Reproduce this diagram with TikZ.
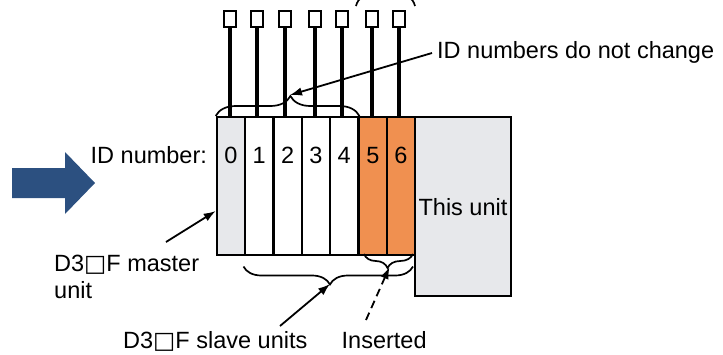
\documentclass[tikz,border=0pt]{standalone}
\usepackage{fontspec}
\setmainfont{Liberation Sans}
\newfontfamily\symf{DejaVu Sans}
\usetikzlibrary{arrows.meta,decorations.pathreplacing}
\definecolor{unitgray}{RGB}{231,232,235}
\definecolor{unitorange}{RGB}{240,144,80}
\definecolor{arrowblue}{RGB}{44,80,128}
\newcommand{\sq}{{\symf\char"25A1}}
\tikzset{
  unitbox/.style={draw=black, line width=2.2pt, minimum width=28.3pt, minimum height=138pt, inner sep=0pt, anchor=north west},
  idsq/.style={draw=black, line width=2.2pt, fill=white, minimum width=12.5pt, minimum height=16.5pt, inner sep=0pt},
  txt/.style={inner sep=0pt, font=\fontsize{23.5}{28}\selectfont},
  stem/.style={line width=3.4pt},
  bracestyle/.style={line width=1.7pt, decorate},
  callout/.style={line width=1.8pt, -{Latex[length=12pt,width=8.5pt]}},
}
\begin{document}
\begin{tikzpicture}[x=1pt,y=-1pt]
\useasboundingbox (0,0) rectangle (723,354);
\clip (0,0) rectangle (723,354);
% blue arrow
\fill[arrowblue] (12,168) -- (65,168) -- (65,152) -- (95,183) -- (65,214) -- (65,198) -- (12,198) -- cycle;
% units
\node[unitbox, fill=unitgray] (u0) at (215.7,116) {};
\node[unitbox, fill=white] (u1) at (244,116) {};
\node[unitbox, fill=white] (u2) at (272.3,116) {};
\node[unitbox, fill=white] (u3) at (300.6,116) {};
\node[unitbox, fill=white] (u4) at (328.9,116) {};
\node[unitbox, fill=unitorange, minimum width=28pt] (u5) at (357.9,116) {};
\node[unitbox, fill=unitorange, minimum width=28pt] (u6) at (385.9,116) {};
\node[draw=black, line width=2.2pt, fill=unitgray, minimum width=96pt, minimum height=179pt, anchor=north west, inner sep=0pt, font=\fontsize{23.5}{28}\selectfont] (this) at (413.9,116) {This unit};
% numbers
\foreach \i in {0,...,6}{
  \node[txt, anchor=base] (n\i) at (u\i.center |- 0,163) {\i};
}
% squares and stems
\foreach \i/\x in {0/230,1/257,2/285,3/315,4/342,5/372,6/399}{
  \node[idsq] (s\i) at (\x,19) {};
  \draw[stem] (s\i.south) -- (s\i.south |- u\i.north);
}
% top partial brace (cut off)
\draw[line width=1.7pt] (356,6) .. controls (357,2) and (359,-1) .. (362,-3);
\draw[line width=1.7pt] (415,6) .. controls (414,2) and (412,-1) .. (409,-3);
% braces
\draw[bracestyle, decoration={brace, amplitude=20pt, aspect=0.52}] (u0.north west) -- (u4.north east);
\coordinate (topTip) at (290,95);
\draw[bracestyle, decoration={brace, amplitude=14pt, aspect=0.52}] (413,254) -- (364,254);
\coordinate (insTip) at (389.5,267);
\draw[bracestyle, decoration={brace, amplitude=18pt, aspect=0.49}] (413,266.5) -- (243.5,266.5);
\coordinate (slaveTip) at (330,284);
% texts
\node[txt, anchor=base west] (idlab) at (90.5,163) {ID number:};
\node[txt, anchor=base west] (nochange) at (437,58) {ID numbers do not change};
\node[txt, anchor=base west] (master) at (54,271) {D3\sq F master};
\node[txt, anchor=base west] (master2) at (54,298.5) {unit};
\node[txt, anchor=base west] (slave) at (123,348.5) {D3\sq F slave units};
\node[txt, anchor=base west] (inserted) at (341.5,348.5) {Inserted};
% callouts
\coordinate (a1) at (432,53);
\draw[callout] (a1) -- (topTip);
\coordinate (a2) at (166,242);
\draw[callout] (a2) -- (u0.west |- 0,211);
\coordinate (a3) at (280,326);
\draw[callout] (a3) -- (slaveTip);
\coordinate (a4) at (366,320);
\draw[callout, dashed, dash pattern=on 8pt off 5pt] (a4) -- (insTip);
\end{tikzpicture}
\end{document}
